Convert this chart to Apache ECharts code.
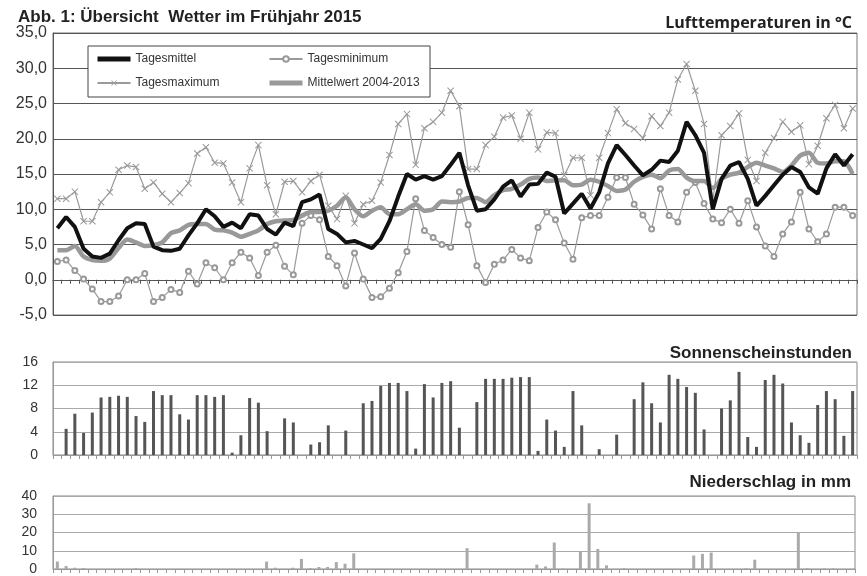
<!DOCTYPE html>
<html>
<head>
<meta charset="utf-8">
<script src="https://cdn.jsdelivr.net/npm/echarts@6/dist/echarts.min.js"></script>
<style>
  html, body { margin: 0; padding: 0; background: #fff; }
  #chart { width: 867px; height: 576px; }
</style>
</head>
<body>
<div id="chart"></div>
<script>
// Wetter im Frühjahr 2015 – 01.03. bis 31.05. (92 Tage)

const monthLengths = [['03', 31], ['04', 30], ['05', 31]];
const days = [];
monthLengths.forEach(([m, n]) => {
  for (let d = 1; d <= n; d++) days.push(String(d).padStart(2, '0') + '.' + m + '.');
});

// Lufttemperaturen in °C
const tagesmittel = [
  7.3, 8.9, 7.5, 4.4, 3.3, 3.1, 3.7, 5.6, 7.3, 8.0, 7.9, 4.7, 4.2, 4.1, 4.4, 6.3,
  8.0, 10.0, 9.0, 7.5, 8.1, 7.3, 9.3, 9.1, 7.2, 6.4, 8.1, 7.6, 11.0, 11.4, 12.1, 7.2,
  6.5, 5.3, 5.5, 5.0, 4.5, 5.8, 8.3, 11.8, 15.0, 14.2, 14.7, 14.2, 14.7, 16.3, 18.0, 13.4,
  9.8, 10.0, 11.4, 13.2, 14.1, 11.8, 13.5, 13.6, 15.2, 14.6, 9.4, 10.8, 12.2, 10.1, 12.4, 16.5,
  19.1, 17.7, 16.2, 14.8, 15.6, 16.9, 16.7, 18.3, 22.4, 20.5, 18.0, 10.0, 14.3, 16.2, 16.7, 14.3,
  10.5, 11.9, 13.4, 14.9, 16.0, 15.3, 13.1, 12.2, 15.8, 17.8, 16.2, 17.8
];
const tagesminimum = [
  2.6, 2.8, 1.3, 0.1, -1.3, -3.1, -3.1, -2.3, 0.0, 0.0, 0.9, -3.1, -2.5, -1.4, -1.8, 1.2,
  -0.6, 2.4, 1.7, 0.0, 2.4, 3.9, 3.1, 0.6, 3.9, 4.9, 1.9, 0.7, 8.0, 9.1, 8.5, 3.3,
  2.0, -0.9, 3.8, 0.1, -2.5, -2.4, -1.2, 1.0, 4.0, 11.5, 7.0, 6.0, 5.0, 4.6, 12.5, 7.8,
  2.0, -0.4, 2.2, 2.8, 4.3, 3.1, 2.7, 7.4, 9.6, 8.5, 5.2, 2.9, 8.8, 9.1, 9.1, 11.7,
  14.5, 14.5, 10.7, 9.2, 7.2, 12.9, 9.1, 8.2, 12.4, 13.8, 10.8, 8.6, 8.1, 10.0, 8.0, 11.2,
  7.5, 4.8, 3.3, 6.5, 8.2, 12.4, 7.2, 5.4, 6.5, 10.3, 10.3, 9.1
];
const tagesmaximum = [
  11.5, 11.5, 12.5, 8.3, 8.3, 11.0, 12.4, 15.6, 16.2, 16.0, 12.9, 13.8, 12.2, 11.0, 12.3, 13.7,
  17.9, 18.8, 16.6, 16.5, 13.8, 11.0, 15.8, 19.1, 13.4, 9.3, 13.9, 14.0, 12.4, 14.0, 14.9, 10.5,
  8.6, 11.9, 8.0, 10.7, 11.2, 13.8, 17.7, 22.1, 23.5, 16.3, 21.5, 22.4, 23.7, 26.8, 24.6, 15.7,
  15.7, 19.1, 20.3, 23.0, 23.3, 20.0, 23.7, 18.5, 20.9, 20.8, 14.8, 17.3, 17.3, 12.0, 17.3, 20.8,
  24.2, 22.2, 21.4, 20.1, 23.2, 21.8, 23.7, 28.4, 30.6, 26.8, 22.1, 11.2, 20.5, 21.8, 23.6, 17.0,
  14.0, 18.0, 20.1, 22.4, 21.0, 21.9, 16.4, 19.0, 22.9, 24.8, 21.5, 24.3
];
const mittelwert = [
  4.2, 4.2, 4.8, 3.3, 2.8, 2.7, 3.0, 4.5, 5.7, 5.3, 4.8, 4.9, 5.3, 6.6, 7.0, 7.8,
  7.9, 7.9, 7.1, 7.0, 6.7, 6.1, 6.5, 7.0, 7.9, 8.3, 8.4, 8.5, 9.1, 9.6, 9.6, 9.8,
  10.5, 11.7, 10.0, 9.0, 9.8, 10.3, 9.3, 9.3, 10.0, 10.7, 9.8, 10.0, 11.1, 11.0, 11.1, 11.6,
  11.6, 11.0, 12.0, 12.7, 12.9, 13.5, 14.3, 14.5, 14.0, 14.1, 14.1, 13.4, 13.5, 14.2, 13.9, 13.3,
  12.6, 12.8, 13.9, 14.6, 14.9, 14.4, 15.5, 15.7, 14.5, 14.0, 14.0, 13.0, 14.3, 14.9, 15.2, 16.0,
  16.6, 16.2, 15.8, 15.3, 16.2, 17.6, 18.0, 16.6, 16.5, 16.8, 16.8, 15.0
];

// Sonnenscheinstunden
const sonnenstunden = [
  0, 4.5, 7.1, 3.8, 7.3, 9.9, 10.0, 10.2, 10.0, 6.7, 5.7, 11.0, 10.3, 10.3, 7.0, 6.1,
  10.3, 10.3, 10.0, 10.3, 0.4, 3.4, 9.8, 9.0, 4.1, 0, 6.3, 5.6, 0, 1.8, 2.2, 5.1,
  0, 4.2, 0, 8.9, 9.3, 11.9, 12.4, 12.4, 11.0, 1.1, 12.2, 9.9, 12.4, 12.7, 4.7, 0,
  9.1, 13.1, 13.1, 13.1, 13.3, 13.4, 13.4, 0.7, 6.1, 4.2, 1.4, 11.0, 5.1, 0, 1.0, 0,
  3.5, 0, 9.6, 12.5, 8.9, 5.6, 13.8, 13.1, 11.7, 10.7, 4.4, 0, 8.0, 9.4, 14.3, 3.1,
  1.4, 12.9, 13.8, 12.3, 5.6, 3.4, 2.1, 8.6, 11.0, 9.6, 3.3, 11.0
];

// Niederschlag in mm
const niederschlag = [
  4.1, 1.6, 0.7, 0.5, 0, 0, 0, 0, 0, 0.5, 0, 0, 0, 0, 0, 0,
  0, 0, 0, 0, 0, 0, 0, 0, 4.1, 0.7, 0, 0.7, 5.5, 0.5, 1.1, 1.1,
  3.8, 2.9, 8.6, 0, 0, 0, 0, 0, 0, 0, 0, 0, 0, 0, 0, 11.4,
  0, 0, 0, 0, 0, 0, 0, 2.4, 1.4, 14.5, 0.2, 0, 9.6, 36.0, 11.0, 2.0,
  0, 0.5, 0, 0, 0, 0, 0, 0, 0, 7.4, 8.3, 9.0, 0, 0, 0, 0.4,
  5.1, 0, 0, 0, 0, 20.1, 0.4, 0, 0.3, 0.3, 0, 0
];

const yTemp = { min: -5, max: 35, step: 5 };
const ySonne = { min: 0, max: 16, step: 4 };
const yRegen = { min: 0, max: 40, step: 10 };

const font = 'Liberation Sans, Arial, sans-serif';
const xSymbol = 'path://M0,1L1,0L5,4L9,0L10,1L6,5L10,9L9,10L5,6L1,10L0,9L4,5Z';

const chart = echarts.init(document.getElementById('chart'));

const xAxisFor = (gridIndex, tickColor) => ({
  type: 'category',
  gridIndex: gridIndex,
  data: days,
  boundaryGap: true,
  axisLine: { show: true, lineStyle: { color: tickColor, width: 1 } },
  axisTick: { show: true, interval: 0, length: 4, lineStyle: { color: tickColor } },
  axisLabel: { show: false },
  splitLine: { show: false }
});

const legendText = { fontFamily: font, fontSize: 12, color: '#333' };

const option = {
  animation: false,
  backgroundColor: '#fff',
  title: [
    { text: 'Abb. 1: Übersicht  Wetter im Frühjahr 2015', left: 13, top: 4,
      textStyle: { fontFamily: font, fontSize: 17, fontWeight: 'bold', color: '#222' } },
    { text: 'Lufttemperaturen in °C', right: 10, top: 10,
      textStyle: { fontFamily: 'Open Sans, sans-serif', fontSize: 16, fontWeight: 'bold', color: '#222' } },
    { text: 'Sonnenscheinstunden', right: 10, top: 340,
      textStyle: { fontFamily: font, fontSize: 17, fontWeight: 'bold', color: '#222' } },
    { text: 'Niederschlag in mm', right: 11, top: 469,
      textStyle: { fontFamily: font, fontSize: 17, fontWeight: 'bold', color: '#222' } }
  ],
  graphic: [{
    type: 'rect',
    shape: { x: 88, y: 46, width: 342, height: 51 },
    style: { fill: '#fff', stroke: '#444', lineWidth: 1 },
    z: 10
  }],
  legend: [
    {
      data: [
        { name: 'Tagesmittel', itemStyle: { opacity: 0 }, lineStyle: { width: 5 } },
        { name: 'Tagesmaximum' }
      ],
      orient: 'vertical', left: 90, top: 48, itemGap: 12,
      itemWidth: 33, itemHeight: 7, z: 20,
      textStyle: legendText
    },
    {
      data: [
        { name: 'Tagesminimum' },
        { name: 'Mittelwert 2004-2013', itemStyle: { opacity: 0 }, lineStyle: { width: 5 } }
      ],
      orient: 'vertical', left: 262, top: 48, itemGap: 12,
      itemWidth: 33, itemHeight: 7, z: 20,
      textStyle: legendText
    }
  ],
  grid: [
    { left: 53, right: 10, top: 33, height: 282, show: true, borderColor: '#777', borderWidth: 1 },
    { left: 53, right: 10, top: 362, height: 93, show: true, borderColor: '#888', borderWidth: 1 },
    { left: 53, right: 12, top: 496, height: 74, show: true, borderColor: '#888', borderWidth: 1 }
  ],
  xAxis: [xAxisFor(0, '#555'), xAxisFor(1, '#999'), xAxisFor(2, '#999')],
  yAxis: [
    {
      type: 'value', gridIndex: 0, min: yTemp.min, max: yTemp.max, interval: yTemp.step,
      axisLine: { show: true, lineStyle: { color: '#555' } },
      axisTick: { show: false },
      axisLabel: { margin: 6, fontFamily: font, fontSize: 16, color: '#333',
        formatter: v => v.toFixed(1).replace('.', ',') },
      splitLine: { lineStyle: { color: '#555', width: 1 } }
    },
    {
      type: 'value', gridIndex: 1, min: ySonne.min, max: ySonne.max, interval: ySonne.step,
      axisLine: { show: true, lineStyle: { color: '#999' } },
      axisTick: { show: false },
      axisLabel: { margin: 15, fontFamily: font, fontSize: 14, color: '#333' },
      splitLine: { lineStyle: { color: '#aaa', width: 1 } }
    },
    {
      type: 'value', gridIndex: 2, min: yRegen.min, max: yRegen.max, interval: yRegen.step,
      axisLine: { show: true, lineStyle: { color: '#999' } },
      axisTick: { show: false },
      axisLabel: { margin: 16, fontFamily: font, fontSize: 14, color: '#333' },
      splitLine: { lineStyle: { color: '#aaa', width: 1 } }
    }
  ],
  series: [
    {
      name: 'Tagesmaximum', type: 'line', xAxisIndex: 0, yAxisIndex: 0,
      data: tagesmaximum, symbol: xSymbol, symbolSize: 7, showSymbol: true, showAllSymbol: true,
      lineStyle: { color: '#9a9a9a', width: 1.2 },
      itemStyle: { color: '#999' }, z: 2
    },
    {
      name: 'Tagesminimum', type: 'line', xAxisIndex: 0, yAxisIndex: 0,
      data: tagesminimum, symbol: 'emptyCircle', symbolSize: 5, showSymbol: true, showAllSymbol: true,
      lineStyle: { color: '#9a9a9a', width: 1.2 },
      itemStyle: { color: '#999', borderWidth: 1 }, z: 2
    },
    {
      name: 'Mittelwert 2004-2013', type: 'line', xAxisIndex: 0, yAxisIndex: 0,
      data: mittelwert, symbol: 'none', smooth: 0.25,
      lineStyle: { color: '#999', width: 4.5 },
      itemStyle: { color: '#999' }, z: 3
    },
    {
      name: 'Tagesmittel', type: 'line', xAxisIndex: 0, yAxisIndex: 0,
      data: tagesmittel, symbol: 'none',
      lineStyle: { color: '#111', width: 4 },
      itemStyle: { color: '#111' }, z: 4
    },
    {
      name: 'Sonnenscheinstunden', type: 'bar', xAxisIndex: 1, yAxisIndex: 1,
      data: sonnenstunden, barWidth: 3,
      itemStyle: { color: '#555' }
    },
    {
      name: 'Niederschlag', type: 'bar', xAxisIndex: 2, yAxisIndex: 2,
      data: niederschlag, barWidth: 3,
      itemStyle: { color: '#aaa' }
    }
  ]
};

chart.setOption(option);
</script>
</body>
</html>
